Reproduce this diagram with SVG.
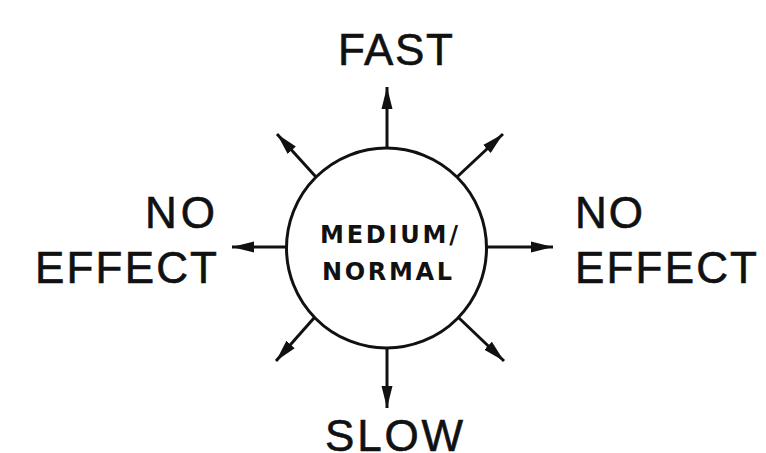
<svg xmlns="http://www.w3.org/2000/svg" width="766" height="453" viewBox="0 0 766 453">
  <style>
    .lbl { font-family: "Liberation Sans", Arial, sans-serif; font-size: 44px; fill: #111; stroke: #111; stroke-width: 0.6; }
    .mid { font-family: "DejaVu Sans", "Liberation Sans", sans-serif; font-size: 24px; font-weight: bold; fill: #111; }
    .ray { stroke: #111; stroke-width: 3; fill: none; marker-end: url(#head); }
  </style>
  <defs>
    <marker id="head" markerUnits="userSpaceOnUse" markerWidth="24" markerHeight="14" refX="22" refY="7" orient="auto">
      <path d="M0,1.5 L22,7 L0,12.5 Z" fill="#111"/>
    </marker>
  </defs>
  <rect width="766" height="453" fill="#fff"/>

  <g id="connectors">
    <line class="ray" x1="387" y1="149" x2="387" y2="87"/>
    <line class="ray" x1="387" y1="348" x2="387" y2="408"/>
    <line class="ray" x1="286" y1="247" x2="232" y2="247"/>
    <line class="ray" x1="487" y1="247" x2="553" y2="247"/>
    <line class="ray" x1="316" y1="177" x2="277" y2="134"/>
    <line class="ray" x1="457" y1="177" x2="503" y2="134"/>
    <line class="ray" x1="314" y1="318" x2="276" y2="361"/>
    <line class="ray" x1="459" y1="318" x2="504" y2="361"/>
  </g>

  <g id="center">
    <circle cx="386.5" cy="248" r="100" fill="#fff" stroke="#111" stroke-width="3"/>
    <text class="mid" x="320" y="243" textLength="138" lengthAdjust="spacing">MEDIUM/</text>
    <text class="mid" x="322" y="280" textLength="130" lengthAdjust="spacing">NORMAL</text>
  </g>

  <g id="fast">
    <text class="lbl" x="338" y="65" textLength="115" lengthAdjust="spacing">FAST</text>
  </g>

  <g id="slow">
    <text class="lbl" x="325" y="451" textLength="138" lengthAdjust="spacing">SLOW</text>
  </g>

  <g id="left-effect">
    <text class="lbl" x="145" y="228" textLength="70" lengthAdjust="spacing">NO</text>
    <text class="lbl" x="35" y="283" textLength="182" lengthAdjust="spacing">EFFECT</text>
  </g>

  <g id="right-effect">
    <text class="lbl" x="575" y="228" textLength="68" lengthAdjust="spacing">NO</text>
    <text class="lbl" x="575" y="283" textLength="182" lengthAdjust="spacing">EFFECT</text>
  </g>
</svg>
